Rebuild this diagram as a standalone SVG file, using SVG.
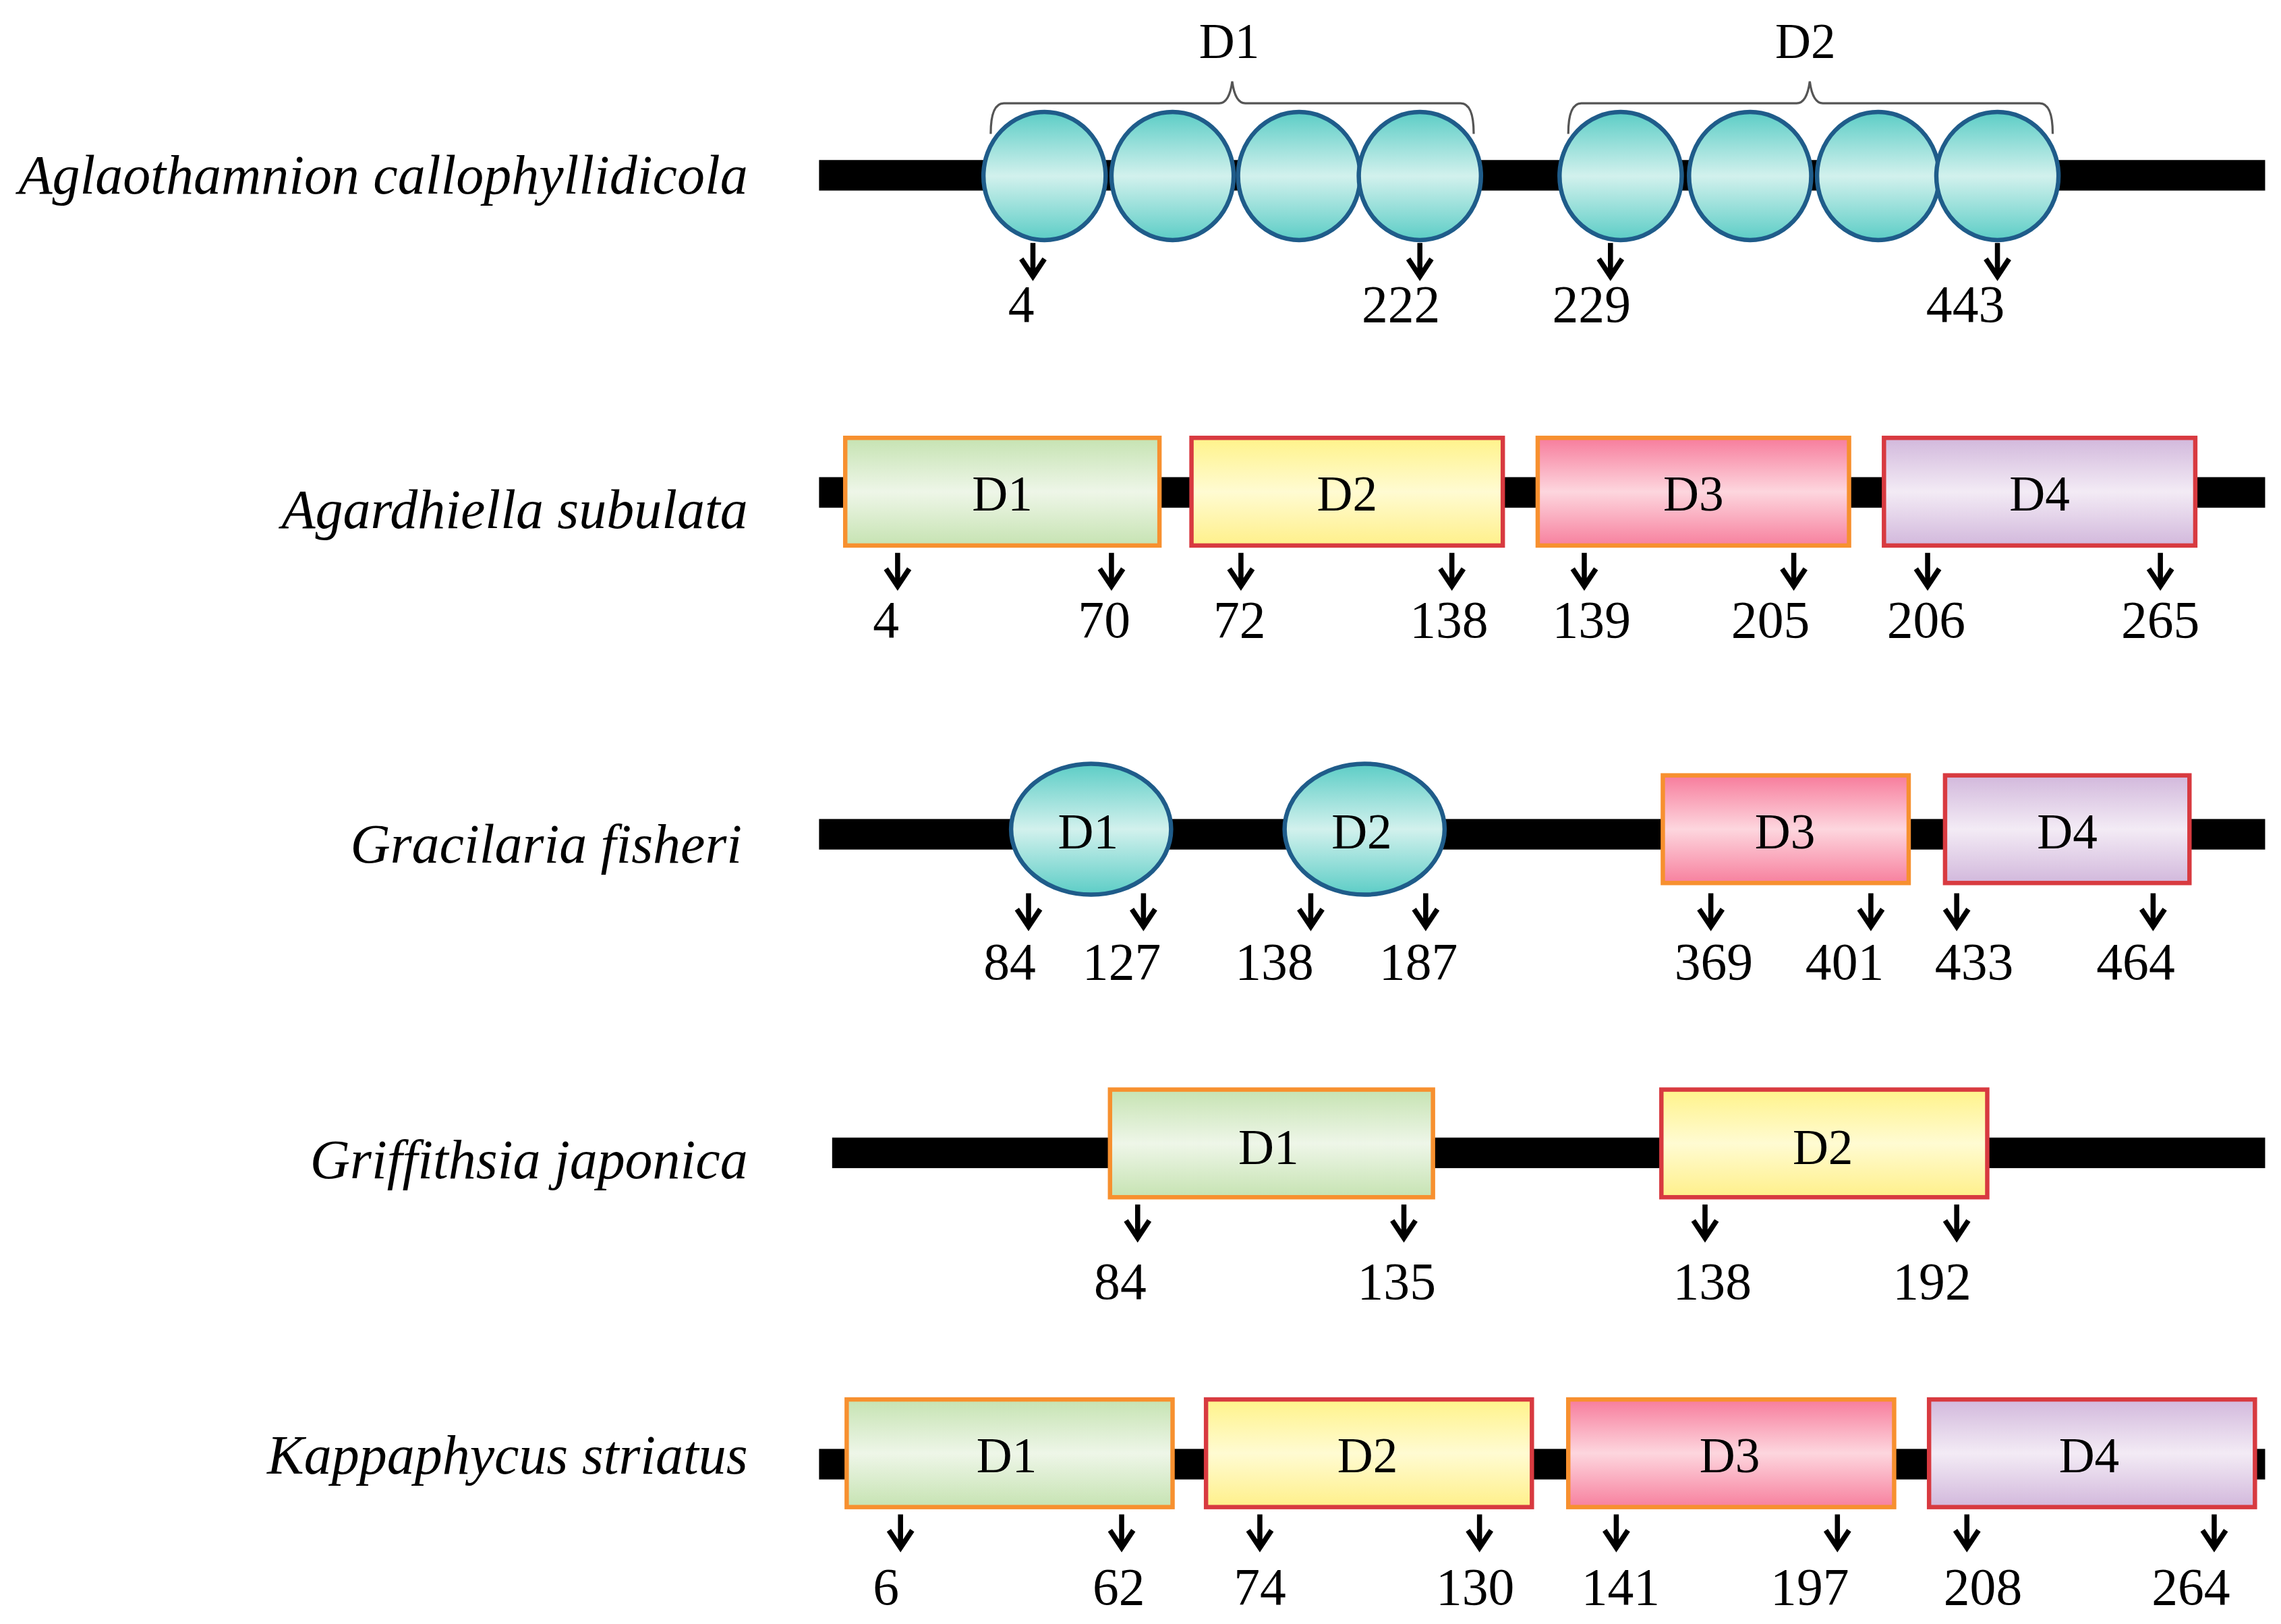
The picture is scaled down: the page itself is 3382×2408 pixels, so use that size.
<svg xmlns="http://www.w3.org/2000/svg" xmlns:xlink="http://www.w3.org/1999/xlink" width="3382" height="2408" viewBox="0 0 3382 2408">
<style>
.bar{fill:#000}
.sp{font-family:"Liberation Serif","Times New Roman",serif;font-style:italic;font-size:38px;text-anchor:end}
.num{font-family:"Liberation Serif","Times New Roman",serif;font-size:36px;text-anchor:middle}
.dl{font-family:"Liberation Serif","Times New Roman",serif;font-size:34px;text-anchor:middle}
.ell{fill:url(#gT);stroke:#1f5c8a;stroke-width:3}
.g{fill:url(#gG);stroke:#f7902f;stroke-width:3}
.y{fill:url(#gY);stroke:#d83a40;stroke-width:3}
.p{fill:url(#gP);stroke:#f7902f;stroke-width:3}
.v{fill:url(#gV);stroke:#d83a40;stroke-width:3}
.br{fill:none;stroke:#555;stroke-width:1.5}
.ar{fill:none;stroke:#000;stroke-width:3.5}
</style>
<defs>
<linearGradient id="gT" x1="0" y1="0" x2="0" y2="1"><stop offset="0" stop-color="#5ccdc6"/><stop offset="0.5" stop-color="#d2f1ed"/><stop offset="1" stop-color="#5ccdc6"/></linearGradient>
<linearGradient id="gG" x1="0" y1="0" x2="0" y2="1"><stop offset="0" stop-color="#c6e3b2"/><stop offset="0.5" stop-color="#eef6e8"/><stop offset="1" stop-color="#c6e3b2"/></linearGradient>
<linearGradient id="gY" x1="0" y1="0" x2="0" y2="1"><stop offset="0" stop-color="#fff38a"/><stop offset="0.5" stop-color="#fffbd2"/><stop offset="1" stop-color="#fff08a"/></linearGradient>
<linearGradient id="gP" x1="0" y1="0" x2="0" y2="1"><stop offset="0" stop-color="#f77c9c"/><stop offset="0.5" stop-color="#fdd6de"/><stop offset="1" stop-color="#f7809e"/></linearGradient>
<linearGradient id="gV" x1="0" y1="0" x2="0" y2="1"><stop offset="0" stop-color="#d2b8dc"/><stop offset="0.5" stop-color="#f3ebf5"/><stop offset="1" stop-color="#d2b8dc"/></linearGradient>
<path id="arr" class="ar" d="M0,0 V23 M-8,11 L0,23 L8,11"/>
</defs>
<rect width="3382" height="2408" fill="#fff"/>
<g transform="scale(2.157)">
<g id="row1">
<text class="sp" x="514" y="133">Aglaothamnion callophyllidicola</text>
<rect class="bar" x="563" y="110" width="994" height="21"/>
<ellipse class="ell" cx="718" cy="121" rx="42" ry="44"/>
<ellipse class="ell" cx="806" cy="121" rx="42" ry="44"/>
<ellipse class="ell" cx="893" cy="121" rx="42" ry="44"/>
<ellipse class="ell" cx="976" cy="121" rx="42" ry="44"/>
<ellipse class="ell" cx="1114" cy="121" rx="42" ry="44"/>
<ellipse class="ell" cx="1203" cy="121" rx="42" ry="44"/>
<ellipse class="ell" cx="1291" cy="121" rx="42" ry="44"/>
<ellipse class="ell" cx="1373" cy="121" rx="42" ry="44"/>
<path class="br" d="M681,92 Q681,71 690,71 H838 Q845,71 847,56 Q849,71 856,71 H1004 Q1013,71 1013,92"/>
<path class="br" d="M1078,92 Q1078,71 1087,71 H1235 Q1242,71 1244,56 Q1246,71 1253,71 H1402 Q1411,71 1411,92"/>
<text class="dl" x="845" y="40">D1</text>
<text class="dl" x="1241" y="40">D2</text>
</g>
<g id="row2">
<text class="sp" x="514" y="363">Agardhiella subulata</text>
<rect class="bar" x="563" y="328" width="994" height="21"/>
<rect class="g" x="581" y="301" width="216" height="74"/>
<rect class="y" x="819" y="301" width="214" height="74"/>
<rect class="p" x="1057" y="301" width="214" height="74"/>
<rect class="v" x="1295" y="301" width="214" height="74"/>
<text class="dl" x="689" y="351">D1</text>
<text class="dl" x="926" y="351">D2</text>
<text class="dl" x="1164" y="351">D3</text>
<text class="dl" x="1402" y="351">D4</text>
</g>
<g id="row3">
<text class="sp" x="510" y="593">Gracilaria fisheri</text>
<rect class="bar" x="563" y="563" width="994" height="21"/>
<ellipse class="ell" cx="750" cy="570" rx="55" ry="45"/>
<ellipse class="ell" cx="938" cy="570" rx="55" ry="45"/>
<rect class="p" x="1143" y="533" width="169" height="74"/>
<rect class="v" x="1337" y="533" width="168" height="74"/>
<text class="dl" x="748" y="583">D1</text>
<text class="dl" x="936" y="583">D2</text>
<text class="dl" x="1227" y="583">D3</text>
<text class="dl" x="1421" y="583">D4</text>
</g>
<g id="row4">
<text class="sp" x="514" y="810">Griffithsia japonica</text>
<rect class="bar" x="572" y="782" width="985" height="21"/>
<rect class="g" x="763" y="749" width="222" height="74"/>
<rect class="y" x="1142" y="749" width="224" height="74"/>
<text class="dl" x="872" y="800">D1</text>
<text class="dl" x="1253" y="800">D2</text>
</g>
<g id="row5">
<text class="sp" x="514" y="1013">Kappaphycus striatus</text>
<rect class="bar" x="563" y="996" width="994" height="21"/>
<rect class="g" x="582" y="962" width="224" height="74"/>
<rect class="y" x="829" y="962" width="224" height="74"/>
<rect class="p" x="1078" y="962" width="224" height="74"/>
<rect class="v" x="1326" y="962" width="224" height="74"/>
<text class="dl" x="692" y="1012">D1</text>
<text class="dl" x="940" y="1012">D2</text>
<text class="dl" x="1189" y="1012">D3</text>
<text class="dl" x="1436" y="1012">D4</text>
</g>
<g id="connectors">
<use href="#arr" x="710" y="167"/><use href="#arr" x="976" y="167"/><use href="#arr" x="1107" y="167"/><use href="#arr" x="1373" y="167"/>
<use href="#arr" x="617" y="380"/><use href="#arr" x="764" y="380"/><use href="#arr" x="853" y="380"/><use href="#arr" x="998" y="380"/>
<use href="#arr" x="1089" y="380"/><use href="#arr" x="1233" y="380"/><use href="#arr" x="1325" y="380"/><use href="#arr" x="1485" y="380"/>
<use href="#arr" x="707" y="614"/><use href="#arr" x="786" y="614"/><use href="#arr" x="901" y="614"/><use href="#arr" x="980" y="614"/>
<use href="#arr" x="1176" y="614"/><use href="#arr" x="1286" y="614"/><use href="#arr" x="1345" y="614"/><use href="#arr" x="1480" y="614"/>
<use href="#arr" x="782" y="828"/><use href="#arr" x="965" y="828"/><use href="#arr" x="1172" y="828"/><use href="#arr" x="1345" y="828"/>
<use href="#arr" x="619" y="1041"/><use href="#arr" x="771" y="1041"/><use href="#arr" x="866" y="1041"/><use href="#arr" x="1017" y="1041"/>
<use href="#arr" x="1111" y="1041"/><use href="#arr" x="1263" y="1041"/><use href="#arr" x="1352" y="1041"/><use href="#arr" x="1522" y="1041"/>
</g>
<g id="numbers">
<text class="num" x="702" y="221">4</text><text class="num" x="963" y="221">222</text><text class="num" x="1094" y="221">229</text><text class="num" x="1351" y="221">443</text>
<text class="num" x="609" y="438">4</text><text class="num" x="759" y="438">70</text><text class="num" x="852" y="438">72</text><text class="num" x="996" y="438">138</text>
<text class="num" x="1094" y="438">139</text><text class="num" x="1217" y="438">205</text><text class="num" x="1324" y="438">206</text><text class="num" x="1485" y="438">265</text>
<text class="num" x="694" y="673">84</text><text class="num" x="771" y="673">127</text><text class="num" x="876" y="673">138</text><text class="num" x="975" y="673">187</text>
<text class="num" x="1178" y="673">369</text><text class="num" x="1268" y="673">401</text><text class="num" x="1357" y="673">433</text><text class="num" x="1468" y="673">464</text>
<text class="num" x="770" y="893">84</text><text class="num" x="960" y="893">135</text><text class="num" x="1177" y="893">138</text><text class="num" x="1328" y="893">192</text>
<text class="num" x="609" y="1103">6</text><text class="num" x="769" y="1103">62</text><text class="num" x="866" y="1103">74</text><text class="num" x="1014" y="1103">130</text>
<text class="num" x="1114" y="1103">141</text><text class="num" x="1244" y="1103">197</text><text class="num" x="1363" y="1103">208</text><text class="num" x="1506" y="1103">264</text>
</g>
</g>
</svg>
